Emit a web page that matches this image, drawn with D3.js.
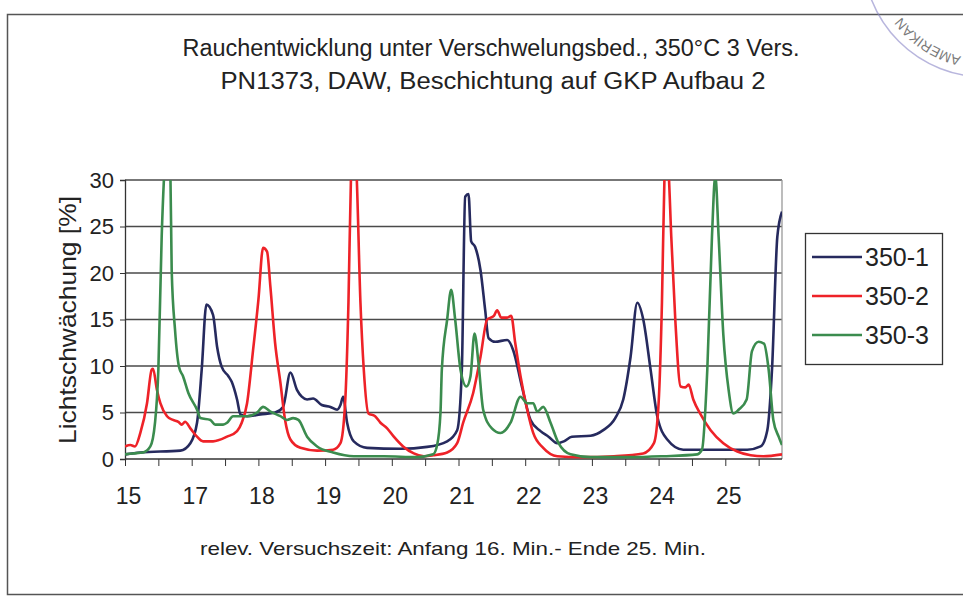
<!DOCTYPE html>
<html>
<head>
<meta charset="utf-8">
<script src="https://cdn.jsdelivr.net/npm/d3@7"></script>
<style>
  body { margin: 0; background: #fff; }
  svg text { font-family: "Liberation Sans", Arial, sans-serif; fill: #222; }
</style>
</head>
<body>
<div id="chart"></div>
<script>
  // tick labels as printed on the chart (16 is missing in the original)
  var xLabels = ["15", "17", "18", "19", "20", "21", "22", "23", "24", "25"];
  var yTicks = [0, 5, 10, 15, 20, 25, 30];
  var seriesNames = ["350-1", "350-2", "350-3"];
  var colors = ["#262a5e", "#ee2228", "#3b8c4e"];

  // [x position in label steps, Lichtschwächung %]
  var s350_1 = [[0,0.5],[0.23,0.7],[0.83,0.9],[0.98,1.7],[1.08,3.9],[1.15,9.6],[1.22,16.6],[1.32,15.5],
    [1.38,12.1],[1.45,9.9],[1.55,8.9],[1.6,8.3],[1.68,6.4],[1.73,4.8],[1.83,4.6],[2.03,4.8],[2.25,5.0],
    [2.37,5.6],[2.48,9.3],[2.58,7.4],[2.65,6.7],[2.73,6.4],[2.82,6.5],[2.95,5.8],[3.08,5.6],[3.18,5.3],
    [3.23,5.8],[3.27,6.7],[3.33,3.9],[3.43,1.9],[3.63,1.2],[4.13,1.1],[4.53,1.3],[4.83,1.9],[4.98,3.1],
    [5.05,9.6],[5.1,28.2],[5.15,28.5],[5.19,23.4],[5.25,22.8],[5.33,20.3],[5.4,16.0],[5.45,13.0],
    [5.55,12.6],[5.73,12.8],[5.82,11.7],[5.95,7.8],[6.08,4.2],[6.23,3.0],[6.35,2.4],[6.48,1.7],
    [6.58,1.9],[6.7,2.4],[6.98,2.5],[7.17,3.1],[7.35,4.4],[7.47,6.4],[7.58,11.0],[7.68,16.8],
    [7.77,15.0],[7.88,9.6],[7.98,4.6],[8.13,2.1],[8.37,1.0],[8.82,1.0],[9.33,1.0],[9.53,1.35],
    [9.63,3.1],[9.7,9.6],[9.78,23.9],[9.85,26.6]];

  var s350_2 = [[0,1.35],[0.08,1.5],[0.15,1.35],[0.23,2.8],[0.33,6.0],[0.4,9.6],[0.42,9.7],[0.48,7.4],
    [0.53,6.0],[0.63,4.6],[0.72,4.2],[0.8,4.0],[0.85,3.7],[0.9,4.0],[0.98,3.3],[1.08,2.4],[1.17,1.9],
    [1.32,1.9],[1.53,2.4],[1.68,3.0],[1.75,3.9],[1.83,6.0],[1.92,11.7],[2.0,17.1],[2.07,22.7],
    [2.13,22.3],[2.18,18.5],[2.25,12.5],[2.33,8.2],[2.4,4.2],[2.48,2.1],[2.63,1.2],[2.88,0.9],
    [3.12,1.0],[3.23,1.7],[3.3,6.0],[3.35,16.8],[3.39,31],[3.43,35],[3.47,31],[3.53,16.8],[3.58,9.6],
    [3.65,4.9],[3.75,4.6],[3.83,3.9],[3.93,3.3],[4.03,2.4],[4.17,1.35],[4.33,0.6],[4.48,0.3],
    [4.62,0.4],[4.83,0.7],[4.98,1.7],[5.07,3.9],[5.22,7.1],[5.33,11.0],[5.43,15.0],[5.53,15.4],
    [5.58,16.0],[5.64,15.2],[5.73,15.2],[5.79,15.4],[5.85,12.5],[5.93,8.9],[6.03,5.3],[6.12,2.8],
    [6.27,1.2],[6.48,0.3],[6.83,0.2],[7.33,0.3],[7.77,0.6],[7.93,1.7],[8.0,6.0],[8.05,16.8],
    [8.09,31],[8.12,34],[8.15,31],[8.19,23.9],[8.25,15.0],[8.33,7.8],[8.4,7.7],[8.45,8.0],[8.52,6.4],
    [8.63,4.8],[8.78,3.1],[8.97,1.7],[9.18,0.8],[9.38,0.4],[9.57,0.3],[9.85,0.5]];

  var s350_3 = [[0,0.5],[0.12,0.6],[0.27,0.7],[0.38,1.35],[0.45,3.9],[0.5,9.6],[0.55,23.9],[0.59,31],
    [0.63,35],[0.68,31],[0.7,20.3],[0.75,13.9],[0.81,9.9],[0.87,8.9],[0.95,7.1],[1.08,5.3],[1.13,4.4],
    [1.28,4.2],[1.35,3.7],[1.47,3.7],[1.53,3.9],[1.62,4.6],[1.83,4.6],[1.98,5.0],[2.07,5.6],[2.18,5.1],
    [2.33,4.6],[2.43,4.2],[2.52,4.4],[2.6,4.2],[2.73,2.4],[2.88,1.35],[3.12,0.7],[3.43,0.3],[3.88,0.3],
    [4.38,0.2],[4.62,0.5],[4.68,1.5],[4.73,5.0],[4.75,9.6],[4.83,15.0],[4.89,18.2],[4.95,15.0],
    [5.03,9.6],[5.12,7.8],[5.18,8.9],[5.24,13.5],[5.3,10.3],[5.37,5.3],[5.5,3.3],[5.63,2.8],[5.78,3.9],
    [5.93,6.7],[6.03,6.0],[6.12,6.0],[6.18,5.1],[6.27,5.6],[6.38,3.9],[6.5,1.7],[6.68,0.5],[6.98,0.2],
    [7.58,0.2],[8.07,0.3],[8.58,0.5],[8.65,1.0],[8.73,9.6],[8.8,23.9],[8.85,30.5],[8.9,23.9],
    [8.97,13.4],[9.05,7.4],[9.12,4.9],[9.2,5.3],[9.32,6.4],[9.4,11.6],[9.5,12.6],[9.58,12.4],
    [9.65,9.6],[9.72,4.2],[9.8,2.4],[9.85,1.5]];

  var allSeries = [s350_1, s350_2, s350_3];

  var width = 963, height = 596;
  var plot = {left: 125, right: 782, top: 180, bottom: 459};

  var svg = d3.select("#chart").append("svg")
    .attr("width", width).attr("height", height);

  // outer frame of the sheet
  svg.append("rect")
    .attr("x", 7.5).attr("y", 14.5).attr("width", 1000).attr("height", 580)
    .attr("fill", "none").attr("stroke", "#555").attr("stroke-width", 1.5);

  var x = d3.scaleLinear().domain([0, 9.85]).range([plot.left, plot.right]);
  var y = d3.scaleLinear().domain([0, 30]).range([plot.bottom, plot.top]);

  // gridlines
  svg.append("g").selectAll("line")
    .data(yTicks.filter(function(d){ return d > 0; }))
    .enter().append("line")
    .attr("x1", plot.left).attr("x2", plot.right)
    .attr("y1", function(d){ return y(d); }).attr("y2", function(d){ return y(d); })
    .attr("stroke", "#4a4a4a").attr("stroke-width", 1.3);

  // right border of plot area
  svg.append("line")
    .attr("x1", plot.right).attr("x2", plot.right)
    .attr("y1", plot.top).attr("y2", plot.bottom)
    .attr("stroke", "#999").attr("stroke-width", 1.3);

  // y axis
  var yAxis = svg.append("g")
    .attr("transform", "translate(" + plot.left + ",0)")
    .call(d3.axisLeft(y).tickValues(yTicks).tickSize(5).tickPadding(6));
  yAxis.select(".domain").attr("stroke", "#333").attr("stroke-width", 1.3);
  yAxis.selectAll(".tick line").attr("stroke", "#333");
  yAxis.selectAll("text").style("font-size", "22px").attr("fill", "#222");

  // x axis: ticks every half step, labels on whole steps
  var xAxis = svg.append("g")
    .attr("transform", "translate(0," + plot.bottom + ")")
    .call(d3.axisBottom(x)
      .tickValues(d3.range(0, 9.8, 0.5))
      .tickSize(7).tickPadding(22)
      .tickFormat(function(d){ return d % 1 === 0 ? xLabels[d] : ""; }));
  xAxis.select(".domain").attr("stroke", "#333").attr("stroke-width", 1.3)
    .attr("d", "M" + plot.left + ",0H" + plot.right);
  xAxis.selectAll(".tick line").attr("stroke", "#333");
  xAxis.selectAll("text").style("font-size", "23px").attr("fill", "#222")
    .attr("dx", 3);

  // clip lines to the plot area
  svg.append("clipPath").attr("id", "clip")
    .append("rect").attr("x", plot.left).attr("y", plot.top)
    .attr("width", plot.right - plot.left).attr("height", plot.bottom - plot.top);

  var line = d3.line()
    .x(function(d){ return x(d[0]); })
    .y(function(d){ return y(d[1]); })
    .curve(d3.curveMonotoneX);

  svg.append("g").attr("clip-path", "url(#clip)")
    .selectAll("path").data(allSeries).enter().append("path")
    .attr("d", line)
    .attr("fill", "none")
    .attr("stroke", function(d, i){ return colors[i]; })
    .attr("stroke-width", 2.6)
    .attr("stroke-linejoin", "round");

  // titles
  svg.append("text").attr("x", 491).attr("y", 56).attr("text-anchor", "middle")
    .style("font-size", "23px").attr("textLength", 617).attr("lengthAdjust", "spacingAndGlyphs")
    .text("Rauchentwicklung unter Verschwelungsbed., 350°C  3 Vers.");
  svg.append("text").attr("x", 493).attr("y", 89).attr("text-anchor", "middle")
    .style("font-size", "23px").attr("textLength", 545).attr("lengthAdjust", "spacingAndGlyphs")
    .text("PN1373, DAW, Beschichtung auf GKP Aufbau 2");

  svg.append("text").attr("x", 453).attr("y", 555).attr("text-anchor", "middle")
    .style("font-size", "19px").attr("textLength", 506).attr("lengthAdjust", "spacingAndGlyphs")
    .text("relev. Versuchszeit: Anfang 16. Min.- Ende 25. Min.");

  svg.append("text")
    .attr("transform", "translate(76,320) rotate(-90)")
    .attr("text-anchor", "middle")
    .style("font-size", "24px").attr("textLength", 248).attr("lengthAdjust", "spacingAndGlyphs")
    .text("Lichtschwächung [%]");

  // legend
  var legend = svg.append("g");
  legend.append("rect")
    .attr("x", 805.5).attr("y", 233.5).attr("width", 137).attr("height", 131)
    .attr("fill", "#fff").attr("stroke", "#333").attr("stroke-width", 1.3);
  var items = legend.selectAll("g.item").data(seriesNames).enter().append("g")
    .attr("class", "item")
    .attr("transform", function(d, i){ return "translate(0," + (257 + i * 39) + ")"; });
  items.append("line")
    .attr("x1", 812).attr("x2", 862).attr("y1", 0).attr("y2", 0)
    .attr("stroke", function(d, i){ return colors[i]; }).attr("stroke-width", 2.6);
  items.append("text")
    .attr("x", 865).attr("y", 9)
    .style("font-size", "25px")
    .text(function(d){ return d; });

  // faint stamp in the top right corner
  var stamp = svg.append("g").attr("opacity", 0.6);
  stamp.append("circle").attr("cx", 985).attr("cy", -45).attr("r", 122)
    .attr("fill", "none").attr("stroke", "#8a86c8").attr("stroke-width", 1.5);
  stamp.append("path").attr("id", "stampArc")
    .attr("d", d3.arc()({innerRadius: 104, outerRadius: 104, startAngle: -2.95, endAngle: -2.0})
      .split("L")[0])
    .attr("transform", "translate(985,-45)")
    .attr("fill", "none");
  stamp.append("text").style("font-size", "14px").attr("fill", "#6f6ab8")
    .append("textPath").attr("href", "#stampArc").attr("startOffset", "2%")
    .text("AMERIKAN");
</script>
</body>
</html>
